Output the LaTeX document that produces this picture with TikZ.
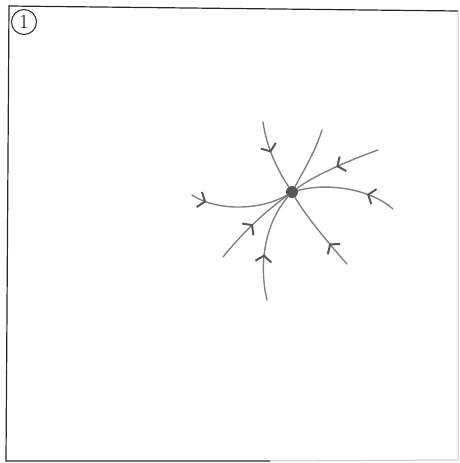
\documentclass[tikz,border=0pt]{standalone}
\usetikzlibrary{arrows.meta,decorations.markings}
\definecolor{pencil}{HTML}{808080}
\definecolor{pencildark}{HTML}{555555}
\definecolor{frameink}{HTML}{262626}
\definecolor{framefade}{HTML}{C8C8C8}

\begin{document}
\begin{tikzpicture}[x=1pt, y=-1pt,
    traj/.style={draw=pencil, line width=1.4pt, line cap=round},
    flow/.style={traj, postaction={decorate}, decoration={markings,
        mark=at position #1 with {\arrow[pencildark, line width=2pt]{Straight Barb[length=6pt, width=16pt]}}}},
    flow/.default=0.5,
    fixpt/.style={circle, fill=pencildark, inner sep=0pt, minimum size=12pt},
    frame/.style={draw=frameink, line width=1.2pt},
    tag/.style={circle, draw=frameink, line width=1pt, inner sep=0pt, minimum size=25pt,
                font=\fontsize{20}{20}\selectfont}
  ]
    \useasboundingbox (0,0) rectangle (460,463);

    % frame of the panel
    \coordinate (tl) at (9,6);
    \coordinate (tr) at (458,11);
    \coordinate (bl) at (6,461);
    \coordinate (bm) at (270,461);
    \coordinate (br) at (458,460);
    \draw[frame] (tr) -- (tl) -- (bl) -- (bm);
    \draw[draw=framefade, line width=1pt] (bm) -- (br) -- (tr);

    \node[tag] (num) at (24,22) {1};

    % equilibrium and trajectories
    \node[fixpt] (eq) at (292,192) {};

    \coordinate (a1) at (263,122);
    \coordinate (a2) at (322,130);
    \coordinate (a3) at (378,150);
    \coordinate (a4) at (393,209);
    \coordinate (a5) at (347,264);
    \coordinate (a6) at (267,300);
    \coordinate (a7) at (223,257);
    \coordinate (a8) at (192,195);

    \draw[flow=0.45] (a1) .. controls (267,150) and (279,172) .. (eq);
    \draw[traj]      (a2) .. controls (316,150) and (303,172) .. (eq);
    \draw[flow=0.5]  (a3) .. controls (350,160) and (315,175) .. (eq);
    \draw[flow=0.3]  (a4) .. controls (372,190) and (330,182) .. (eq);
    \draw[flow=0.32] (a5) .. controls (330,245) and (305,215) .. (eq);
    \draw[flow=0.42] (a6) .. controls (258,262) and (266,222) .. (eq);
    \draw[flow=0.5]  (a7) .. controls (245,230) and (265,212) .. (eq);
    \draw[flow=0.16] (a8) .. controls (218,212) and (262,210) .. (eq);
\end{tikzpicture}
\end{document}
